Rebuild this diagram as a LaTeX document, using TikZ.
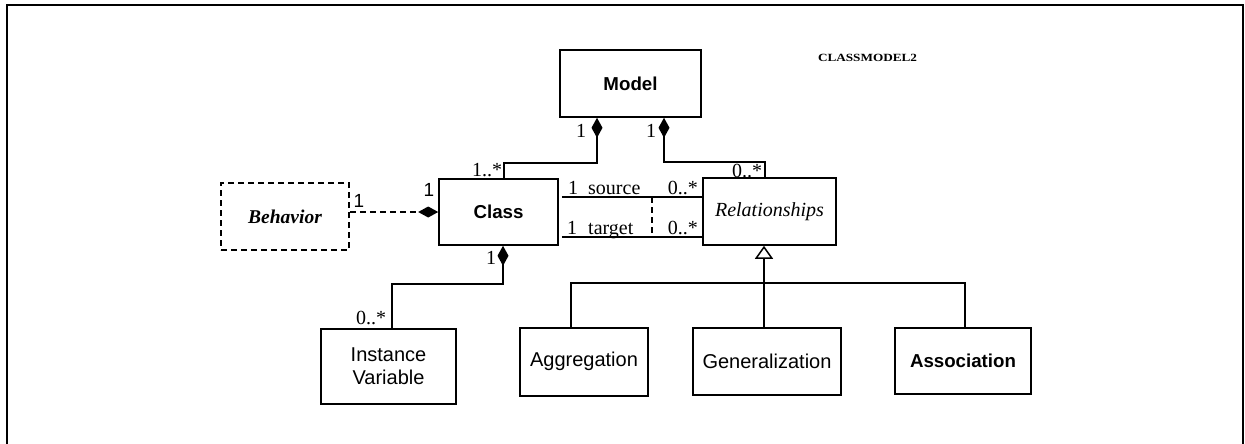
\documentclass[tikz,border=0pt]{standalone}
\usepackage{fontspec}
\setmainfont{Liberation Serif}
\setsansfont{Liberation Sans}
\usetikzlibrary{arrows.meta,calc}
\begin{document}
\begin{tikzpicture}[x=1pt,y=-1pt,
  conn/.style={line width=1.6pt},
  comp/.style={conn,-{Diamond[length=20pt,width=11pt]}},
  inherit/.style={conn,-{Triangle[open,length=13pt,width=18pt,line width=1.5pt]}},
  dashline/.style={dash pattern=on 6pt off 4pt},
  classbox/.style={draw,line width=1.6pt,inner sep=0pt,align=center},
  sanstext/.style={font=\sffamily\fontsize{20}{24}\selectfont},
  sansbold/.style={font=\sffamily\bfseries\fontsize{18.7}{22}\selectfont},
  lbl/.style={inner sep=0pt,font=\fontsize{20}{22}\selectfont},
  sanslbl/.style={inner sep=0pt,font=\sffamily\fontsize{19}{20}\selectfont}]
\useasboundingbox (0,0) rectangle (1245,444);

% page frame, open at the bottom
\draw[line width=2pt] (6.5,444) -- (6.5,5.5) -- (1242.5,5.5) -- (1242.5,444);

\node[inner sep=0pt,font=\bfseries\fontsize{11}{12}\selectfont] (title) at (867.5,58)
  {\scalebox{1.2}[1]{CLASSMODEL2}};

% classes
\node[classbox,sansbold,minimum width=141pt,minimum height=67pt] (model) at (630.5,83.5) {Model};
\node[classbox,sansbold,minimum width=119pt,minimum height=66pt] (cls) at (498.5,212) {Class};
\node[classbox,minimum width=133pt,minimum height=67pt,font=\itshape\fontsize{20}{22}\selectfont]
  (rel) at (769.5,211.5) {Relationships};
\node[classbox,dashline,minimum width=128pt,minimum height=67pt,
  font=\bfseries\itshape\fontsize{19.5}{22}\selectfont] (beh) at (285,216.5) {Behavior};
\node[classbox,sanstext,minimum width=135pt,minimum height=75pt] (iv) at (388.5,366.5)
  {Instance\\[-1pt]Variable};
\node[classbox,sanstext,minimum width=128pt,minimum height=68pt] (agg) at (584,362)
  {\raisebox{5pt}{Aggregation}};
\node[classbox,sanstext,minimum width=148pt,minimum height=67pt] (gen) at (767,361.5)
  {Generalization};
\node[classbox,sansbold,minimum width=136pt,minimum height=66pt] (asc) at (963,361)
  {Association};

% compositions
\draw[comp] ([xshift=5.5pt]cls.north) -- ++(0,-15) -| ([xshift=-33.5pt]model.south);
\draw[comp] ([xshift=-4.5pt]rel.north) -- ++(0,-15) -| ([xshift=33.5pt]model.south);
\draw[comp,dashline] (beh.east |- cls.west) -- (cls.west);
\draw[comp] ([xshift=3.5pt]iv.north) -- ++(0,-44.5) -| ([xshift=4.5pt]cls.south);

% source / target associations
\coordinate (sL) at ([xshift=3pt,yshift=15pt]cls.east);
\coordinate (tL) at ([xshift=3pt,yshift=-25pt]cls.east);
\draw[conn] (sL) -- (sL -| rel.west);
\draw[conn] (tL) -- (tL -| rel.west);
\coordinate (acS) at (652,197);
\coordinate (acT) at (652,237);
\draw[conn,dashline] (acS) -- (acT);

% generalization tree
\draw[inherit] ([xshift=-3pt]gen.north) -- ([xshift=-5.5pt]rel.south);
\draw[conn] ([xshift=-13pt]agg.north) -- ++(0,-44) -| ([xshift=2pt]asc.north);

% multiplicities and role names
\node[lbl] (m1) at (581,131) {1};
\node[lbl] (m2) at (651,131) {1};
\node[lbl] (m3) at (487,170) {1..*};
\node[lbl] (m4) at (747,171) {0..*};
\node[lbl,anchor=base] (s1) at (573,194) {1};
\node[lbl,anchor=base west] (s2) at (588,194) {source};
\node[lbl,anchor=base east] (s3) at (698,194) {0..*};
\node[lbl,anchor=base] (t1) at (572,234) {1};
\node[lbl,anchor=base west] (t2) at (588,234) {target};
\node[lbl,anchor=base east] (t3) at (698,234) {0..*};
\node[sanslbl] (b1) at (359,201) {1};
\node[sanslbl] (b2) at (429,190) {1};
\node[lbl] (c1) at (491,258) {1};
\node[lbl] (v1) at (371,318) {0..*};
\end{tikzpicture}
\end{document}
